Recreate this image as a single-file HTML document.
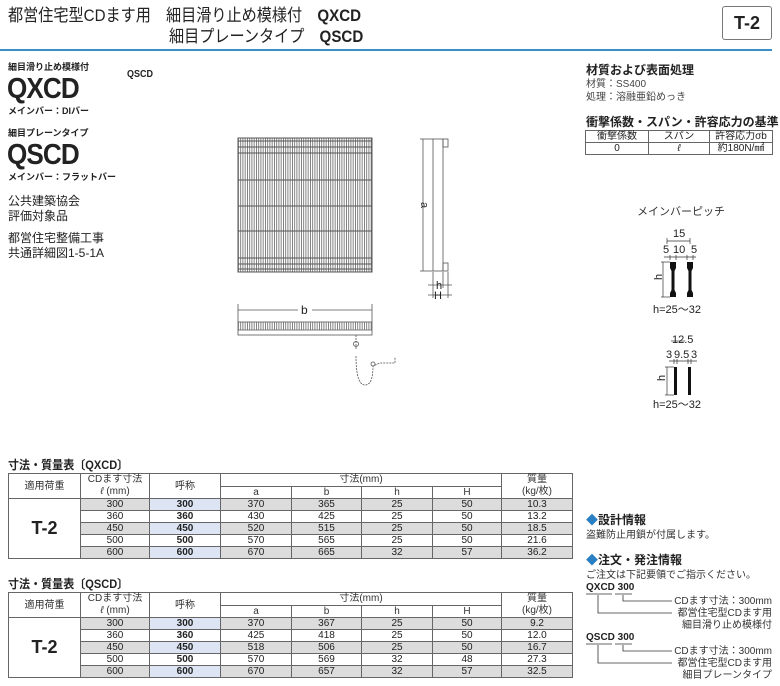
<!DOCTYPE html>
<html><head><meta charset="utf-8">
<style>
*{margin:0;padding:0;box-sizing:border-box}
body{width:780px;height:686px;background:#fff;position:relative;overflow:hidden;font-family:"Liberation Sans","Noto Sans CJK JP",sans-serif;color:#222}
.a{position:absolute;white-space:nowrap;line-height:1}
.b{font-weight:bold}
.sx{transform-origin:0 0}
table{position:absolute;border-collapse:collapse;font-size:10px;table-layout:fixed}
td{border:1px solid #666;text-align:center;height:12px;padding:0;line-height:11px}
tr.g td.s{background:#dcdcdc}
tr.g td.n{background:#dde5f4}
td.n{font-weight:bold}
.hd td{color:#333}
</style></head><body>
<div class="a sx" style="left:8px;top:7px;font-size:17px;transform:scaleX(0.89)">都営住宅型CDます用　細目滑り止め模様付　<b>QXCD</b></div>
<div class="a sx" style="left:169px;top:28px;font-size:17px;transform:scaleX(0.89)">細目プレーンタイプ　<b>QSCD</b></div>
<div style="position:absolute;left:0;top:49px;width:772px;height:2px;background:#3a8fc8"></div>
<div class="a b" style="left:722px;top:6px;width:50px;height:34px;border:1px solid #777;border-radius:3px;font-size:18px;text-align:center;line-height:32px">T-2</div>

<div class="a b" style="left:8px;top:63px;font-size:9px">細目滑り止め模様付</div>
<div class="a b sx" style="left:7px;top:75px;font-size:29px;letter-spacing:-1px;transform:scaleX(0.9)">QXCD</div>
<div class="a b sx" style="left:127px;top:70px;font-size:10px;transform:scaleX(0.9)">QSCD</div>
<div class="a b" style="left:8px;top:107px;font-size:9px">メインバー：DIバー</div>
<div class="a b" style="left:8px;top:129px;font-size:9px">細目プレーンタイプ</div>
<div class="a b sx" style="left:7px;top:141px;font-size:29px;letter-spacing:-1px;transform:scaleX(0.9)">QSCD</div>
<div class="a b" style="left:8px;top:173px;font-size:9px">メインバー：フラットバー</div>
<div class="a" style="left:8px;top:194px;font-size:12px;line-height:15px;white-space:normal">公共建築協会<br>評価対象品</div>
<div class="a" style="left:8px;top:231px;font-size:12px;line-height:15px;white-space:normal">都営住宅整備工事<br>共通詳細図1-5-1A</div>

<svg style="position:absolute;left:0;top:0" width="780" height="686">
<defs><pattern id="vb" x="238" y="0" width="2.25" height="10" patternUnits="userSpaceOnUse"><rect x="0" y="0" width="0.8" height="10" fill="#666"/></pattern></defs>
<rect x="238" y="138" width="134" height="134" fill="url(#vb)"/>
<rect x="238" y="138" width="134" height="134" fill="none" stroke="#555" stroke-width="1"/>
<g stroke="#555" stroke-width="1">
<line x1="238" y1="141" x2="372" y2="141"/><line x1="238" y1="147" x2="372" y2="147"/><line x1="238" y1="153" x2="372" y2="153"/>
<line x1="238" y1="180" x2="372" y2="180"/><line x1="238" y1="206" x2="372" y2="206"/><line x1="238" y1="231" x2="372" y2="231"/>
<line x1="238" y1="258" x2="372" y2="258"/><line x1="238" y1="264" x2="372" y2="264"/><line x1="238" y1="269" x2="372" y2="269"/>
</g>
<g stroke="#555" fill="none" stroke-width="0.8">
<rect x="433" y="139" width="10" height="132"/>
<rect x="443" y="139" width="5" height="8"/><rect x="443" y="263" width="5" height="8"/>
<line x1="423" y1="139" x2="423" y2="271"/><line x1="420" y1="139" x2="433" y2="139"/><line x1="420" y1="271" x2="433" y2="271"/>
<line x1="433" y1="272" x2="433" y2="298"/><line x1="443" y1="272" x2="443" y2="288"/><line x1="448" y1="272" x2="448" y2="298"/>
<line x1="428" y1="285" x2="452" y2="285"/><line x1="428" y1="295" x2="452" y2="295"/>
<line x1="238" y1="304" x2="238" y2="322"/><line x1="372" y1="304" x2="372" y2="322"/>
<line x1="238" y1="310" x2="298" y2="310"/><line x1="312" y1="310" x2="372" y2="310"/>
<rect x="238" y="322" width="134" height="13"/><line x1="238" y1="330" x2="372" y2="330"/>
<path d="M356 335 L356 350 M356 356 Q356 385 365 385 Q373 385 373 366 L380 363 L395 363 L395 357" stroke-dasharray="2 1"/>
<circle cx="356" cy="344" r="2.5"/><circle cx="373" cy="364" r="2"/>
</g>
<rect x="238" y="322" width="134" height="8" fill="url(#vb)"/>
<text x="420" y="207" font-size="11" fill="#333" transform="rotate(90 423 205)" font-family="Liberation Sans">a</text>
<text x="436" y="289" font-size="11" fill="#222" font-family="Liberation Sans">h</text>
<text x="434" y="299" font-size="11" fill="#222" font-family="Liberation Sans">H</text>
<text x="301" y="314" font-size="12" fill="#222" font-family="Liberation Sans">b</text>
<g stroke="#333" stroke-width="0.7" fill="none">
<line x1="667" y1="241" x2="690" y2="241"/><line x1="667" y1="238" x2="667" y2="244"/><line x1="690" y1="238" x2="690" y2="244"/>
<line x1="664" y1="257" x2="696" y2="257"/>
<line x1="670" y1="255" x2="670" y2="260"/><line x1="676" y1="255" x2="676" y2="260"/><line x1="687" y1="255" x2="687" y2="260"/><line x1="693" y1="255" x2="693" y2="260"/>
<line x1="663" y1="262" x2="663" y2="297"/><line x1="661" y1="262" x2="670" y2="262"/><line x1="661" y1="297" x2="670" y2="297"/>
<line x1="671" y1="341" x2="685" y2="341"/>
<line x1="669" y1="361" x2="697" y2="361"/>
<line x1="674" y1="359" x2="674" y2="364"/><line x1="677" y1="359" x2="677" y2="364"/><line x1="688" y1="359" x2="688" y2="364"/><line x1="691" y1="359" x2="691" y2="364"/>
<line x1="667" y1="367" x2="667" y2="395"/><line x1="665" y1="367" x2="674" y2="367"/><line x1="665" y1="395" x2="674" y2="395"/>
</g>
<path d="M670 262h6v6l-1.5 3v19l1.5 3v4h-6v-4l1.5-3v-19l-1.5-3z" fill="#111"/>
<path d="M687 262h6v6l-1.5 3v19l1.5 3v4h-6v-4l1.5-3v-19l-1.5-3z" fill="#111"/>
<rect x="674" y="367" width="3" height="28" fill="#111"/><rect x="688" y="367" width="3" height="28" fill="#111"/>
<g font-size="11" fill="#222" font-family="Liberation Sans">
<text x="673" y="237">15</text>
<text x="663" y="253">5</text><text x="673" y="253">10</text><text x="691" y="253">5</text>
<text x="659" y="283" transform="rotate(-90 659 280)">h</text>
<text x="653" y="313">h=25〜32</text>
<text x="672" y="343">12.5</text>
<text x="666" y="358">3</text><text x="674" y="358">9.5</text><text x="691" y="358">3</text>
<text x="662" y="384" transform="rotate(-90 662 381)">h</text>
<text x="653" y="408">h=25〜32</text>
</g>
<g stroke="#333" stroke-width="0.8" fill="none">
<line x1="586" y1="594" x2="612" y2="594"/><line x1="615" y1="594" x2="632" y2="594"/>
<path d="M623 595 V601 H672"/><path d="M598 595 V613 H672"/>
<line x1="586" y1="644" x2="612" y2="644"/><line x1="615" y1="644" x2="632" y2="644"/>
<path d="M623 645 V651 H672"/><path d="M598 645 V663 H672"/>
</g>
</svg>

<div class="a" style="left:637px;top:207px;font-size:11px;color:#333">メインバーピッチ</div>

<div class="a b" style="left:586px;top:64px;font-size:12px">材質および表面処理</div>
<div class="a" style="left:586px;top:80px;font-size:10px;color:#444">材質：SS400</div>
<div class="a" style="left:586px;top:93px;font-size:10px;color:#444">処理：溶融亜鉛めっき</div>
<div class="a b" style="left:586px;top:116px;font-size:12px">衝撃係数・スパン・許容応力の基準</div>
<table style="left:585px;top:130px;width:187px">
<colgroup><col style="width:63px"><col style="width:61px"><col style="width:63px"></colgroup>
<tr><td>衝撃係数</td><td>スパン</td><td>許容応力σb</td></tr>
<tr><td>0</td><td><i>ℓ</i></td><td>約180N/㎟</td></tr>
</table>

<div class="a b sx" style="left:8px;top:459px;font-size:12px;transform:scaleX(0.92)">寸法・質量表〔QXCD〕</div>
<table style="left:8px;top:473px;width:564px">
<colgroup><col style="width:72px"><col style="width:69px"><col style="width:71px"><col style="width:71px"><col style="width:70px"><col style="width:71px"><col style="width:69px"><col style="width:71px"></colgroup>
<tr class="hd"><td rowspan="2">適用荷重</td><td rowspan="2" style="line-height:12px">CDます寸法<br><i>ℓ</i> (mm)</td><td rowspan="2">呼称</td><td colspan="4">寸法(mm)</td><td rowspan="2" style="line-height:12px">質量<br>(kg/枚)</td></tr>
<tr class="hd"><td>a</td><td>b</td><td>h</td><td>H</td></tr>
<tr class="g"><td rowspan="5" class="b" style="font-size:18px">T-2</td><td class="s">300</td><td class="n">300</td><td class="s">370</td><td class="s">365</td><td class="s">25</td><td class="s">50</td><td class="s">10.3</td></tr>
<tr><td>360</td><td class="n">360</td><td>430</td><td>425</td><td>25</td><td>50</td><td>13.2</td></tr>
<tr class="g"><td class="s">450</td><td class="n">450</td><td class="s">520</td><td class="s">515</td><td class="s">25</td><td class="s">50</td><td class="s">18.5</td></tr>
<tr><td>500</td><td class="n">500</td><td>570</td><td>565</td><td>25</td><td>50</td><td>21.6</td></tr>
<tr class="g"><td class="s">600</td><td class="n">600</td><td class="s">670</td><td class="s">665</td><td class="s">32</td><td class="s">57</td><td class="s">36.2</td></tr>
</table>

<div class="a b sx" style="left:8px;top:578px;font-size:12px;transform:scaleX(0.92)">寸法・質量表〔QSCD〕</div>
<table style="left:8px;top:592px;width:564px">
<colgroup><col style="width:72px"><col style="width:69px"><col style="width:71px"><col style="width:71px"><col style="width:70px"><col style="width:71px"><col style="width:69px"><col style="width:71px"></colgroup>
<tr class="hd"><td rowspan="2">適用荷重</td><td rowspan="2" style="line-height:12px">CDます寸法<br><i>ℓ</i> (mm)</td><td rowspan="2">呼称</td><td colspan="4">寸法(mm)</td><td rowspan="2" style="line-height:12px">質量<br>(kg/枚)</td></tr>
<tr class="hd"><td>a</td><td>b</td><td>h</td><td>H</td></tr>
<tr class="g"><td rowspan="5" class="b" style="font-size:18px">T-2</td><td class="s">300</td><td class="n">300</td><td class="s">370</td><td class="s">367</td><td class="s">25</td><td class="s">50</td><td class="s">9.2</td></tr>
<tr><td>360</td><td class="n">360</td><td>425</td><td>418</td><td>25</td><td>50</td><td>12.0</td></tr>
<tr class="g"><td class="s">450</td><td class="n">450</td><td class="s">518</td><td class="s">506</td><td class="s">25</td><td class="s">50</td><td class="s">16.7</td></tr>
<tr><td>500</td><td class="n">500</td><td>570</td><td>569</td><td>32</td><td>48</td><td>27.3</td></tr>
<tr class="g"><td class="s">600</td><td class="n">600</td><td class="s">670</td><td class="s">657</td><td class="s">32</td><td class="s">57</td><td class="s">32.5</td></tr>
</table>

<div class="a b" style="left:586px;top:514px;font-size:12px"><span style="color:#2a7fc4">◆</span>設計情報</div>
<div class="a" style="left:586px;top:531px;font-size:10px;color:#333">盗難防止用鎖が付属します。</div>
<div class="a b" style="left:586px;top:554px;font-size:12px"><span style="color:#2a7fc4">◆</span>注文・発注情報</div>
<div class="a" style="left:586px;top:571px;font-size:10px;color:#333">ご注文は下記要領でご指示ください。</div>
<div class="a b" style="left:586px;top:583px;font-size:10px">QXCD 300</div>
<div class="a" style="right:8px;top:596px;font-size:10px;color:#333;text-align:right;line-height:12px;white-space:normal">CDます寸法：300mm<br>都営住宅型CDます用<br>細目滑り止め模様付</div>
<div class="a b" style="left:586px;top:633px;font-size:10px">QSCD 300</div>
<div class="a" style="right:8px;top:646px;font-size:10px;color:#333;text-align:right;line-height:12px;white-space:normal">CDます寸法：300mm<br>都営住宅型CDます用<br>細目プレーンタイプ</div>
</body></html>
